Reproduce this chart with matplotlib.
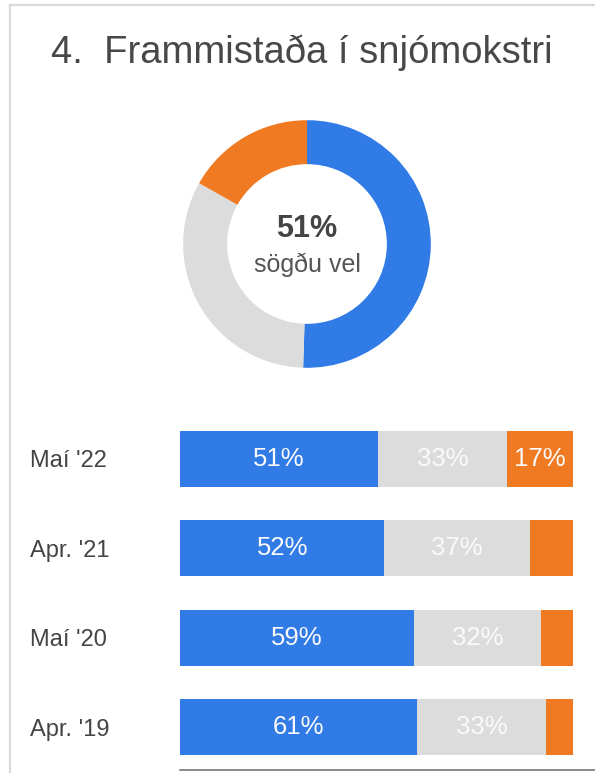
import numpy as np
import matplotlib
matplotlib.use("Agg")
from matplotlib import pyplot as plt
from matplotlib.lines import Line2D

plt.rcParams["font.family"] = ["Liberation Sans", "DejaVu Sans"]

# gögn
titill = "4.  Frammistaða í snjómokstri"
flokkar = ["Maí '22", "Apr. '21", "Maí '20", "Apr. '19"]
vel = [51, 52, 59, 61]
hvorki = [33, 37, 32, 33]
illa = [17, 11, 8, 7]
kleinuhringur = [51, 33, 17]
midja_tala = "51%"
midja_texti = "sögðu vel"

blar = "#317be6"
grar = "#dcdcdc"
appelsinugulur = "#f07a22"
litir = [blar, grar, appelsinugulur]

W, H = 595, 773
fig = plt.figure(figsize=(W / 100, H / 100), dpi=100)

# rammi
fig.add_artist(Line2D([10 / W, 1], [1 - 5 / H, 1 - 5 / H], color="#d9d9d9", lw=1.6))
fig.add_artist(Line2D([10 / W, 10 / W], [0, 1 - 5 / H], color="#d9d9d9", lw=1.6))

fig.text(302 / W, 1 - 63 / H, titill, ha="center", va="baseline",
         fontsize=27.5, color="#484848")

# kleinuhringur
cx, cy, s = 307, 244, 260
ax1 = fig.add_axes([(cx - s / 2) / W, 1 - (cy + s / 2) / H, s / W, s / H])
ax1.pie(kleinuhringur, colors=litir, startangle=90, counterclock=False,
        radius=1, wedgeprops=dict(width=0.355, edgecolor="none"))
ax1.set_xlim(-1.05, 1.05)
ax1.set_ylim(-1.05, 1.05)
ax1.set_aspect("equal")
ax1.axis("off")
ax1.text(0, 0.12, midja_tala, ha="center", va="center", fontsize=22,
         fontweight="bold", color="#444444")
ax1.text(0, -0.17, midja_texti, ha="center", va="center", fontsize=18,
         color="#555555")

# súlur
top, bottom = 415, 770
ax2 = fig.add_axes([180 / W, 1 - bottom / H, (W - 180) / W, (bottom - top) / H])
y = np.arange(len(flokkar))
gildi = np.array([vel, hvorki, illa], dtype=float)
summa = gildi.sum(axis=0)
vinstri = np.zeros(len(flokkar))
for i in range(3):
    breidd = gildi[i] / summa * 100
    ax2.barh(y, breidd, left=vinstri, height=0.627, color=litir[i], edgecolor="none")
    for j in range(len(flokkar)):
        if gildi[i][j] >= 15:
            ax2.text(vinstri[j] + breidd[j] / 2, y[j], f"{int(gildi[i][j])}%",
                     ha="center", va="center", fontsize=18.5, color="#fafafa")
    vinstri = vinstri + breidd

ax2.set_xlim(0, 100 * (W - 180) / (573 - 180))
ax2.set_ylim(3.48, -0.49)
ax2.set_yticks(y)
ax2.set_yticklabels(flokkar, fontsize=17, color="#444444", ha="left")
ax2.tick_params(axis="y", length=0, pad=108)
ax2.set_xticks([])
for sp in ["top", "right", "left"]:
    ax2.spines[sp].set_visible(False)
ax2.spines["bottom"].set_color("#777777")
ax2.spines["bottom"].set_linewidth(1.2)

fig.savefig("out.png", dpi=100)
